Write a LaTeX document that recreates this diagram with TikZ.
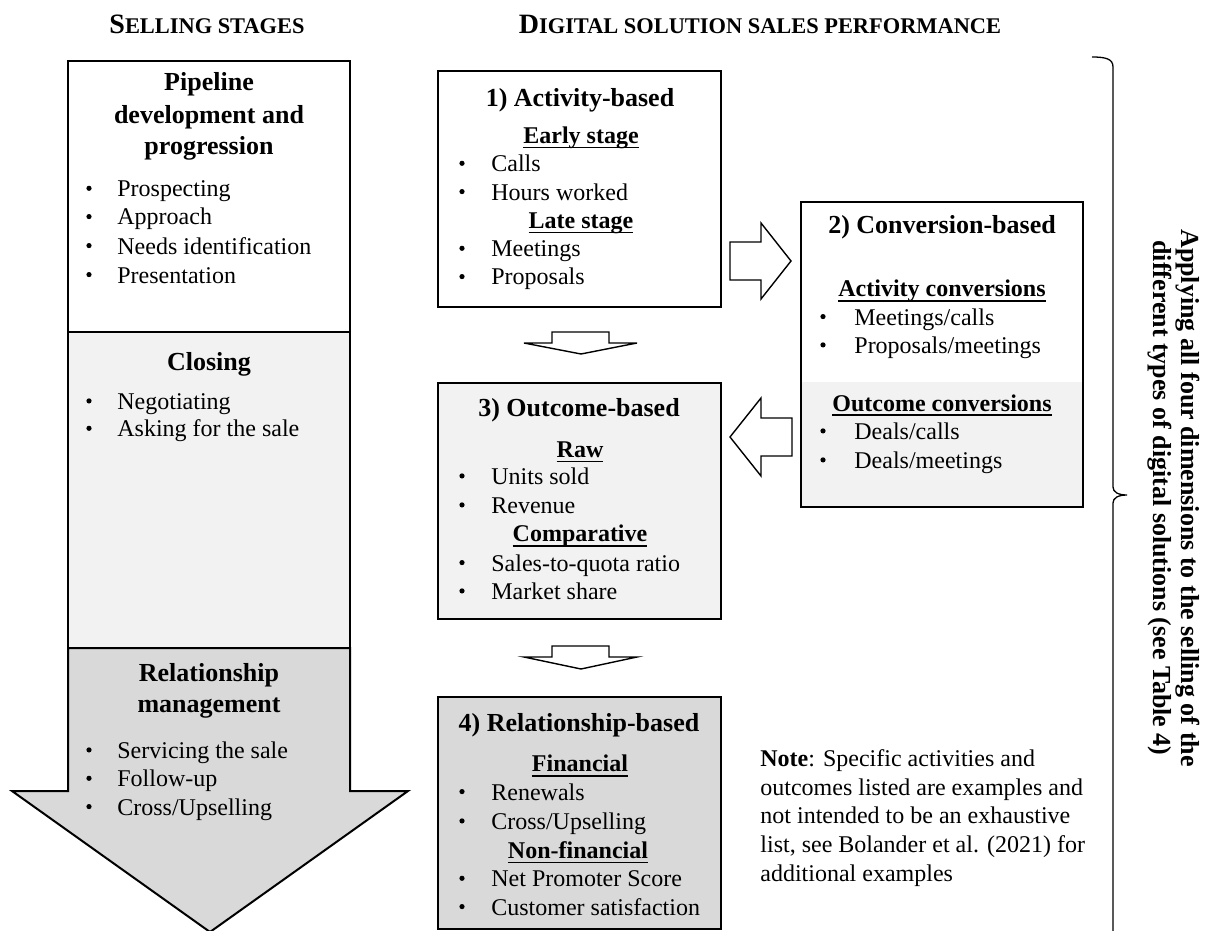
\documentclass[tikz,border=0pt]{standalone}
\usepackage{fontspec}
\setmainfont{Liberation Serif}
\definecolor{paleGrey}{HTML}{F2F2F2}
\definecolor{midGrey}{HTML}{D9D9D9}

% bold heading underlined just under the baseline
\newcommand\ulhead[1]{\setbox0\hbox{#1}\rlap{\rule[-2.4pt]{\wd0}{0.75pt}}\box0}
% faked small capitals for the column headings
\newcommand\fakesc[2]{{\fontsize{14}{16}\selectfont #1}{\fontsize{11.2}{16}\selectfont #2}}
% bullet item: name, bullet x, text x, baseline y, text
\newcommand\bitem[5]{%
  \node[dotmark] (#1-dot) at (#2,#4-8.4) {};
  \node[itemtext] (#1) at (#3,#4) {#5};}

\begin{document}
\begin{tikzpicture}[x=0.5pt,y=-0.5pt,
  itemtext/.style={inner sep=0pt,anchor=base west,font=\fontsize{12}{14}\selectfont},
  dotmark/.style={circle,fill=black,inner sep=0pt,minimum size=2.6pt},
  boxtitle/.style={inner sep=0pt,anchor=base,font=\fontsize{13}{16}\selectfont\bfseries},
  subhead/.style={inner sep=0pt,anchor=base,font=\fontsize{12}{14}\selectfont\bfseries},
  colhead/.style={inner sep=0pt,anchor=base,font=\bfseries},
  stagepen/.style={draw=black,line width=1pt},
  metricbox/.style={draw=black,line width=1pt,inner sep=0pt,minimum width=141.5pt},
  blockarrow/.style={draw=black,line width=0.7pt,fill=white,line join=miter},
  bracepen/.style={draw=black,line width=0.65pt},
]
\useasboundingbox (0,0) rectangle (1211,931);
\clip (0,0) rectangle (1211,931);

% column headings
\node[colhead] (hstages) at (207,33.3) {\fakesc{S}{ELLING STAGES}};
\node[colhead] (hperf) at (760,33.3) {\fakesc{D}{IGITAL SOLUTION SALES PERFORMANCE}};

% ---------- selling stages: one long downward arrow ----------
\path[stagepen,fill=white] (68,61) rectangle (350,332);
\path[stagepen,fill=paleGrey] (68,332) rectangle (350,648);
\path[stagepen,fill=midGrey,line join=miter]
  (68,648) -- (350,648) -- (350,791) -- (408,791) -- (210,932)
  -- (12,791) -- (68,791) -- cycle;

\node[boxtitle] (pipe1) at (209,90.7) {Pipeline};
\node[boxtitle] (pipe2) at (209,123.3) {development and};
\node[boxtitle] (pipe3) at (209,155) {progression};
\bitem{s1}{89}{117}{196.7}{Prospecting}
\bitem{s2}{89}{117}{225}{Approach}
\bitem{s3}{89}{117}{254}{Needs identification}
\bitem{s4}{89}{117}{283}{Presentation}

\node[boxtitle] (closing) at (209,370) {Closing};
\bitem{c1}{89}{117}{409.3}{Negotiating}
\bitem{c2}{89}{117}{436.7}{Asking for the sale}

\node[boxtitle] (rel1) at (209,681.7) {Relationship};
\node[boxtitle] (rel2) at (209,712.7) {management};
\bitem{r1}{89}{117}{758.3}{Servicing the sale}
\bitem{r2}{89}{117}{786.7}{Follow-up}
\bitem{r3}{89}{117}{815}{Cross/Upselling}

% ---------- performance dimensions ----------
\node[metricbox,fill=white,minimum height=118pt] (b1) at (579.5,189) {};
\fill[paleGrey] (801,382) rectangle (1083,507);
\node[metricbox,minimum width=141pt,minimum height=152.5pt] (b2) at (942,354.5) {};
\node[metricbox,fill=paleGrey,minimum height=118pt] (b3) at (579.5,501) {};
\node[metricbox,fill=midGrey,minimum height=116pt] (b4) at (579.5,813) {};

% 1) activity-based
\node[boxtitle] (t1) at (580,106.7) {1) Activity-based};
\node[subhead] (early) at (581,143.3) {\ulhead{Early stage}};
\bitem{a1}{462}{491}{171.7}{Calls}
\bitem{a2}{462}{491}{200}{Hours worked}
\node[subhead] (late) at (581,228.3) {\ulhead{Late stage}};
\bitem{a3}{462}{491}{256.7}{Meetings}
\bitem{a4}{462}{491}{285}{Proposals}

% 2) conversion-based
\node[boxtitle] (t2) at (942,234) {2) Conversion-based};
\node[subhead] (actconv) at (942,296.7) {\ulhead{Activity conversions}};
\bitem{v1}{823}{854}{325}{Meetings/calls}
\bitem{v2}{823}{854}{353.3}{Proposals/meetings}
\node[subhead] (outconv) at (942,411) {\ulhead{Outcome conversions}};
\bitem{v3}{823}{854}{439.3}{Deals/calls}
\bitem{v4}{823}{854}{468.3}{Deals/meetings}

% 3) outcome-based
\node[boxtitle] (t3) at (579,416.7) {3) Outcome-based};
\node[subhead] (raw) at (580,457.3) {\ulhead{Raw}};
\bitem{o1}{462}{491}{484.3}{Units sold}
\bitem{o2}{462}{491}{513.3}{Revenue}
\node[subhead] (comp) at (580,541.7) {\ulhead{Comparative}};
\bitem{o3}{462}{491}{571}{Sales-to-quota ratio}
\bitem{o4}{462}{491}{599.3}{Market share}

% 4) relationship-based
\node[boxtitle] (t4) at (579,731.7) {4) Relationship-based};
\node[subhead] (fin) at (580,771.7) {\ulhead{Financial}};
\bitem{f1}{462}{491}{800}{Renewals}
\bitem{f2}{462}{491}{829.3}{Cross/Upselling}
\node[subhead] (nonfin) at (578,858.3) {\ulhead{Non-financial}};
\bitem{f3}{462}{491}{886.7}{Net Promoter Score}
\bitem{f4}{462}{491}{915}{Customer satisfaction}

% block arrows between the dimensions
\path[blockarrow] (730,242) -- (761,242) -- (761,223) -- (791,261)
  -- (761,299) -- (761,280) -- (730,280) -- cycle;
\path[blockarrow] (792,418) -- (761,418) -- (761,398) -- (730,437)
  -- (761,476) -- (761,456) -- (792,456) -- cycle;
\path[blockarrow] (552,332) -- (609,332) -- (609,343) -- (637,343)
  -- (581,354) -- (524,343) -- (552,343) -- cycle;
\path[blockarrow] (552,646) -- (609,646) -- (609,657) -- (637,657)
  -- (581,669) -- (524,657) -- (552,657) -- cycle;

% note
\node[itemtext] (n1) at (760,766.7) {\textbf{Note}: Specific activities and};
\node[itemtext] (n2) at (760,795) {outcomes listed are examples and};
\node[itemtext] (n3) at (760,823.3) {not intended to be an exhaustive};
\node[itemtext] (n4) at (760,852.7) {list, see Bolander et al. (2021) for};
\node[itemtext] (n5) at (760,881) {additional examples};

% brace spanning all four dimensions
\path[bracepen] (1092,57) .. controls (1106,57) and (1113,59) .. (1113,67)
  -- (1113,487) .. controls (1113,492) and (1118,495) .. (1127,495)
  .. controls (1118,495) and (1113,498) .. (1113,503) -- (1113,945);
\node[rotate=-90,align=center,inner sep=0pt,
  font=\fontsize{13}{14}\selectfont\bfseries] (apply) at (1174,498)
  {Applying all four dimensions to the selling of the\\
   different types of digital solutions (see Table 4)};
\end{tikzpicture}
\end{document}
